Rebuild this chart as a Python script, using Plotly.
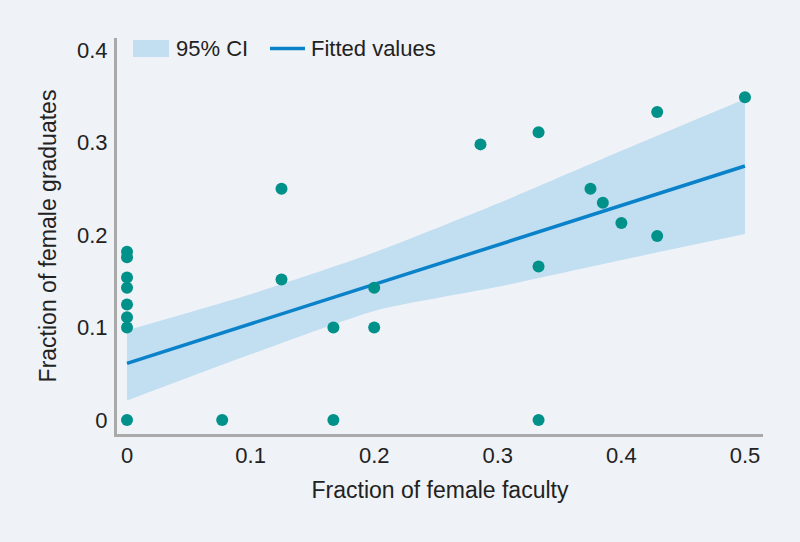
import plotly.graph_objects as go

# Scatter data: fraction of female faculty (x) vs fraction of female graduates (y)
faculty = [0, 0, 0, 0, 0, 0, 0, 0,
           0.077, 0.125, 0.125, 0.167, 0.167, 0.2, 0.2,
           0.286, 0.333, 0.333, 0.333, 0.375, 0.385, 0.4,
           0.429, 0.429, 0.5]
graduates = [0.182, 0.176, 0.154, 0.143, 0.125, 0.111, 0.1, 0,
             0, 0.25, 0.152, 0.1, 0, 0.143, 0.1,
             0.298, 0.311, 0.166, 0, 0.25, 0.235, 0.213,
             0.333, 0.199, 0.349]

# Fitted line
fit_x = [0, 0.5]
fit_y = [0.0613, 0.2746]

# 95% confidence band
ci_x = [0, 0.1, 0.2, 0.3, 0.4, 0.5]
ci_upper = [0.097, 0.136, 0.181, 0.234, 0.291, 0.347]
ci_lower = [0.021, 0.071, 0.118, 0.144, 0.173, 0.201]

x_ticks = [0, 0.1, 0.2, 0.3, 0.4, 0.5]
x_ticklabels = ["0", "0.1", "0.2", "0.3", "0.4", "0.5"]
y_ticks = [0, 0.1, 0.2, 0.3, 0.4]
y_ticklabels = ["0", "0.1", "0.2", "0.3", "0.4"]

legend_labels = ["95% CI", "Fitted values"]

BG = "#eff2f6"
BAND = "#c2def1"
LINE = "#0a82c9"
DOT = "#00918a"
AXIS = "#a9a9a9"
TEXT = "#222222"
FONT = "Liberation Sans"

fig = go.Figure()
fig.add_trace(go.Scatter(x=ci_x, y=ci_lower, mode="lines",
                         line=dict(width=0, color=BAND, shape="spline", smoothing=0.6),
                         showlegend=False, hoverinfo="skip"))
fig.add_trace(go.Scatter(x=ci_x, y=ci_upper, mode="lines",
                         line=dict(width=0, color=BAND, shape="spline", smoothing=0.6),
                         fill="tonexty", fillcolor=BAND, name=legend_labels[0], showlegend=False))
fig.add_trace(go.Scatter(x=fit_x, y=fit_y, mode="lines", line=dict(width=3.5, color=LINE),
                         name=legend_labels[1], showlegend=False))
fig.add_trace(go.Scatter(x=faculty, y=graduates, mode="markers",
                         marker=dict(size=12, color=DOT), showlegend=False))

# Legend drawn as a swatch row at the top-left of the plot area (paper coordinates)
fig.add_shape(type="rect", xref="paper", yref="paper", x0=0.0248, x1=0.0805, y0=0.952, y1=0.995,
              fillcolor=BAND, line=dict(width=0))
fig.add_shape(type="line", xref="paper", yref="paper", x0=0.2368, x1=0.291, y0=0.9735, y1=0.9735,
              line=dict(color=LINE, width=3.5))
fig.add_annotation(xref="paper", yref="paper", x=0.0885, y=0.9735, text=legend_labels[0],
                   showarrow=False, xanchor="left", yanchor="middle", font=dict(size=22, color=TEXT))
fig.add_annotation(xref="paper", yref="paper", x=0.2975, y=0.9735, text=legend_labels[1],
                   showarrow=False, xanchor="left", yanchor="middle", font=dict(size=22, color=TEXT))

fig.update_layout(
    width=800, height=542,
    paper_bgcolor=BG, plot_bgcolor=BG,
    margin=dict(l=117, r=37, t=38, b=108),
    font=dict(family=FONT, size=20, color=TEXT),
    showlegend=False,
)
fig.update_xaxes(range=[-0.0081, 0.5146], tickvals=x_ticks, ticktext=x_ticklabels,
                 showgrid=False, zeroline=False, showline=True, linecolor=AXIS, linewidth=3,
                 ticks="", ticklabelstandoff=0, tickfont_size=22,
                 title_text="Fraction of female faculty", title_standoff=15,
                 title_font=dict(family=FONT, size=23, color=TEXT))
fig.update_yaxes(range=[-0.0151, 0.413], tickvals=y_ticks, ticktext=y_ticklabels,
                 showgrid=False, zeroline=False, showline=True, linecolor=AXIS, linewidth=3,
                 ticks="", ticklabelstandoff=2, tickfont_size=22,
                 title_text="Fraction of female graduates", title_standoff=14,
                 title_font=dict(family=FONT, size=23, color=TEXT))

fig.write_html("out.html", config={"displayModeBar": False},
               post_script="document.body.style.margin='0';")
